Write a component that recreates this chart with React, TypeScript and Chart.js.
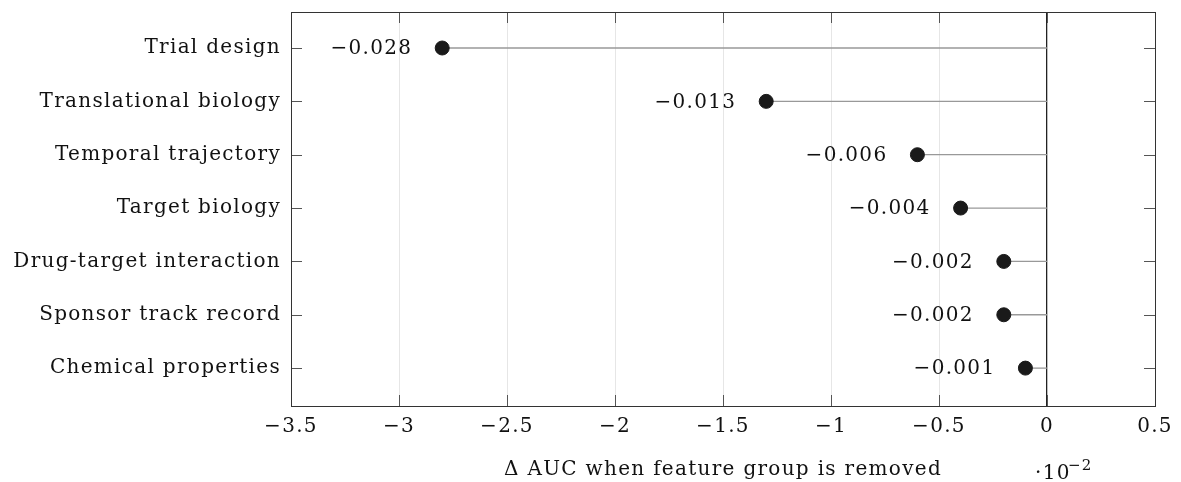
import React, { useEffect, useRef } from "react";
import { Chart, registerables } from "chart.js";

Chart.register(...registerables);

const categories = [
  "Trial design",
  "Translational biology",
  "Temporal trajectory",
  "Target biology",
  "Drug-target interaction",
  "Sponsor track record",
  "Chemical properties",
];
const deltaAuc = [-0.028, -0.013, -0.006, -0.004, -0.002, -0.002, -0.001];
const xTickValues = [-3.5, -3, -2.5, -2, -1.5, -1, -0.5, 0, 0.5];
const xTitle = "Δ AUC when feature group is removed";

const FONT = "'DejaVu Serif', serif";
const SPACING = "1.3px";
const minus = (s: string) => s.replace("-", "\u2212");

const spacingPlugin = {
  id: "spacing",
  beforeDraw(chart: any) {
    chart.ctx.letterSpacing = SPACING;
  },
};

const framePlugin = {
  id: "frame",
  afterDatasetsDraw(chart: any) {
    const { ctx, chartArea: a, scales } = chart;
    ctx.save();
    ctx.letterSpacing = SPACING;
    // inside ticks
    ctx.strokeStyle = "#555";
    ctx.lineWidth = 1;
    const tl = 11;
    xTickValues.forEach((v) => {
      const x = Math.round(scales.x.getPixelForValue(v)) + 0.5;
      ctx.beginPath();
      ctx.moveTo(x, a.bottom);
      ctx.lineTo(x, a.bottom - tl);
      ctx.moveTo(x, a.top);
      ctx.lineTo(x, a.top + tl);
      ctx.stroke();
    });
    categories.forEach((_, i) => {
      const y = Math.round(scales.y.getPixelForValue(i + 1)) + 0.5;
      ctx.beginPath();
      ctx.moveTo(a.left, y);
      ctx.lineTo(a.left + tl, y);
      ctx.moveTo(a.right, y);
      ctx.lineTo(a.right - tl, y);
      ctx.stroke();
    });
    // frame
    ctx.strokeStyle = "#333";
    ctx.strokeRect(
      Math.round(a.left) + 0.5,
      Math.round(a.top) + 0.5,
      Math.round(a.right - a.left),
      Math.round(a.bottom - a.top)
    );
    // value labels
    ctx.fillStyle = "#111";
    ctx.font = `20px ${FONT}`;
    ctx.textAlign = "right";
    ctx.textBaseline = "middle";
    deltaAuc.forEach((v, i) => {
      const x = scales.x.getPixelForValue(v * 100);
      const y = scales.y.getPixelForValue(i + 1);
      ctx.fillText(minus(v.toFixed(3)), x - 30, y + 1);
    });
    // exponent label
    ctx.textAlign = "left";
    ctx.textBaseline = "alphabetic";
    ctx.font = `20px ${FONT}`;
    ctx.fillText("\u00b710", 1035, 479);
    ctx.font = `15px ${FONT}`;
    ctx.fillText("\u22122", 1068, 470);
    ctx.restore();
  },
};

export default function App() {
  const ref = useRef<HTMLCanvasElement>(null);
  useEffect(() => {
    document.body.style.margin = "0";
    const stems = categories.map((c, i) => ({
      type: "line" as const,
      label: c,
      data: [
        { x: deltaAuc[i] * 100, y: i + 1 },
        { x: 0, y: i + 1 },
      ],
      borderColor: "#999",
      borderWidth: 1.3,
      pointRadius: 0,
      showLine: true,
      order: 2,
    }));
    const chart = new Chart(ref.current!, {
      type: "scatter",
      data: {
        datasets: [
          {
            label: "points",
            data: deltaAuc.map((v, i) => ({ x: v * 100, y: i + 1 })),
            backgroundColor: "#1a1a1a",
            borderColor: "#1a1a1a",
            pointRadius: 7,
            order: 1,
          } as any,
          ...stems,
        ],
      },
      options: {
        animation: false,
        responsive: false,
        layout: { autoPadding: false, padding: { top: 12, right: 26, left: 0, bottom: 0 } },
        plugins: { legend: { display: false }, tooltip: { enabled: false } },
        scales: {
          x: {
            type: "linear",
            min: -3.5,
            max: 0.5,
            afterBuildTicks: (s: any) => {
              s.ticks = xTickValues.map((v) => ({ value: v }));
            },
            afterFit: (s: any) => {
              s.height = 76;
              s.paddingLeft = 0;
              s.paddingRight = 0;
            },
            ticks: {
              color: "#111",
              font: { family: FONT, size: 20 },
              padding: 9,
              maxRotation: 0,
              callback: (v: any) => minus(String(v)),
            },
            grid: {
              drawTicks: false,
              color: (ctx: any) =>
                ctx.tick && ctx.tick.value === 0 ? "#222" : "#e6e6e6",
              lineWidth: (ctx: any) =>
                ctx.tick && ctx.tick.value === 0 ? 1.3 : 1,
            },
            border: { display: false },
            title: {
              display: true,
              text: xTitle,
              color: "#111",
              font: { family: FONT, size: 20 },
              padding: { top: 12, bottom: 0 },
            },
          },
          y: {
            type: "linear",
            reverse: true,
            min: 0.325,
            max: 7.71,
            afterBuildTicks: (s: any) => {
              s.ticks = categories.map((_, i) => ({ value: i + 1 }));
            },
            afterFit: (s: any) => {
              s.width = 291;
              s.paddingTop = 0;
              s.paddingBottom = 0;
            },
            ticks: {
              color: "#111",
              font: { family: FONT, size: 20 },
              padding: 10,
              callback: (v: any) => categories[Number(v) - 1] ?? "",
            },
            grid: { display: false, drawTicks: false },
            border: { display: false },
          },
        },
      },
      plugins: [spacingPlugin, framePlugin],
    } as any);
    return () => chart.destroy();
  }, []);
  return <canvas ref={ref} width={1181} height={482} style={{ display: "block" }} />;
}
